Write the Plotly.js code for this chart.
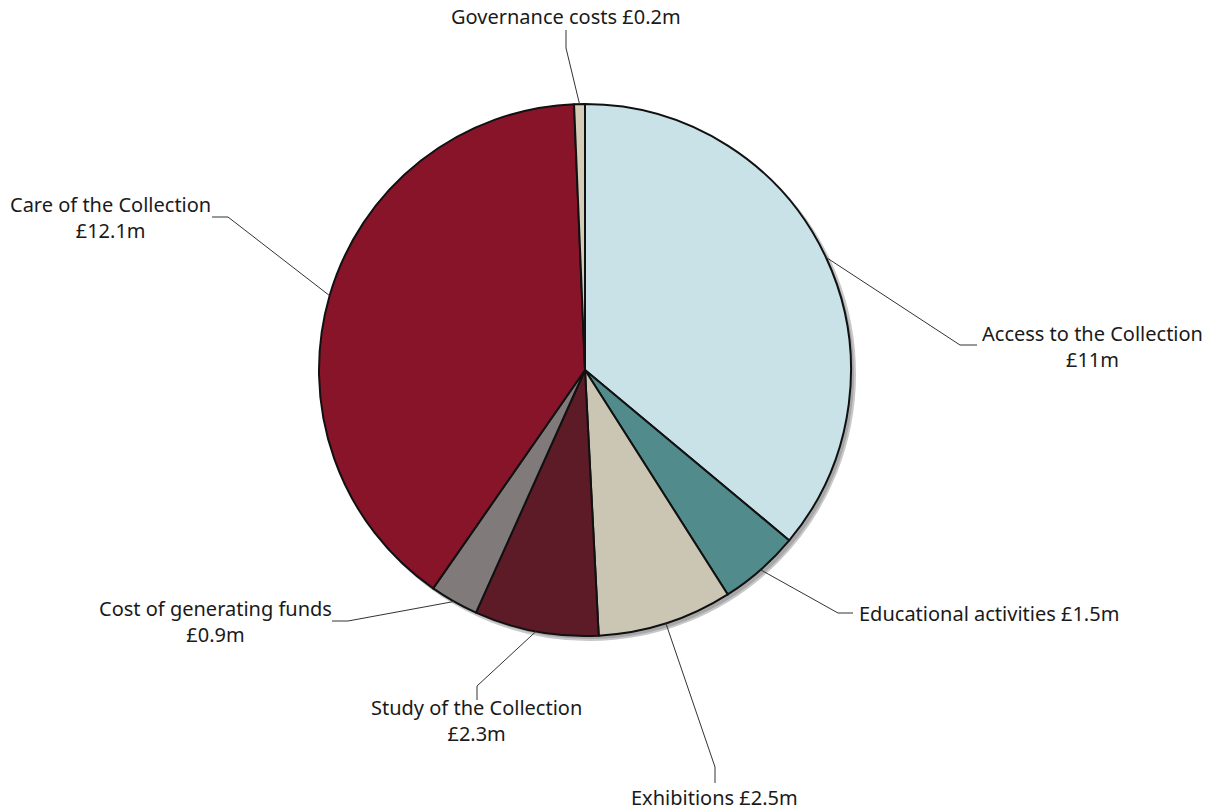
<!DOCTYPE html>
<html>
<head>
<meta charset="utf-8">
<script src="https://cdn.plot.ly/plotly-3.0.1.min.js"></script>
<style>html,body{margin:0;padding:0;background:#fff;}#chart{width:1211px;height:811px;}</style>
</head>
<body>
<div id="chart"></div>
<script>
// ---- data ----
const categories = ["Access to the Collection", "Educational activities", "Exhibitions", "Study of the Collection", "Cost of generating funds", "Care of the Collection", "Governance costs"];
const values = [11, 1.5, 2.5, 2.3, 0.9, 12.1, 0.2];
const valueLabels = ["£11m", "£1.5m", "£2.5m", "£2.3m", "£0.9m", "£12.1m", "£0.2m"];
const colors = ["#c9e2e8", "#528b8c", "#cbc6b4", "#5d1b27", "#807a7b", "#871428", "#d6cdb9"];

// ---- layout constants (pixels) ----
const W = 1211, H = 811;
const CX = 585, CY = 370, R = 266;
// label layout: elbow point, line end point, text anchor, text pieces
const labelLayout = [
  {elbow: [960, 345], end: [977, 345], text: [1092, 346], sep: "<br>", anchor: "center"},
  {elbow: [838, 613], end: [853, 613], text: [857, 613], sep: " ", anchor: "left"},
  {elbow: [715, 767], end: [715, 783], text: [715, 797], sep: " ", anchor: "center"},
  {elbow: [477, 686], end: [477, 700], text: [476, 720], sep: "<br>", anchor: "center"},
  {elbow: [348, 621], end: [332, 621], text: [215, 621], sep: "<br>", anchor: "center"},
  {elbow: [228, 217], end: [212, 217], text: [110, 217], sep: "<br>", anchor: "center"},
  {elbow: [566, 48], end: [566, 30], text: [566, 16], sep: " ", anchor: "center"}
];

const px = x => x / W;
const py = y => 1 - y / H;

const total = values.reduce((a, b) => a + b, 0);
const shapes = [];
const annotations = [];

// drop shadow behind the pie
shapes.push({type: "circle", xref: "paper", yref: "paper", layer: "below",
  x0: px(CX - R + 4), x1: px(CX + R + 4), y0: py(CY + R + 4), y1: py(CY - R + 4),
  fillcolor: "#a8a8a8", line: {color: "#c8c8c8", width: 2}});

let cum = 0;
values.forEach((v, i) => {
  const theta = (cum + v / 2) / total * 2 * Math.PI;
  cum += v;
  const sx = CX + R * Math.sin(theta), sy = CY - R * Math.cos(theta);
  const L = labelLayout[i];
  const path = `M ${px(sx)},${py(sy)} L ${px(L.elbow[0])},${py(L.elbow[1])} L ${px(L.end[0])},${py(L.end[1])}`;
  shapes.push({type: "path", xref: "paper", yref: "paper", layer: "above", path: path,
    line: {color: "#333", width: 1}});
  annotations.push({xref: "paper", yref: "paper", x: px(L.text[0]), y: py(L.text[1]),
    xanchor: L.anchor, yanchor: "middle", showarrow: false, align: "center",
    text: categories[i] + L.sep + valueLabels[i],
    font: {family: "'Noto Sans', 'DejaVu Sans', sans-serif", size: 20, color: "#1a1a1a"}});
});

const trace = {
  type: "pie",
  labels: categories,
  values: values,
  sort: false,
  direction: "clockwise",
  rotation: 0,
  textinfo: "none",
  hoverinfo: "label+value",
  marker: {colors: colors, line: {color: "#111", width: 2}},
  domain: {x: [px(CX - R), px(CX + R)], y: [py(CY + R), py(CY - R)]},
  showlegend: false
};

const layout = {
  width: W, height: H,
  margin: {l: 0, r: 0, t: 0, b: 0},
  paper_bgcolor: "#fff",
  showlegend: false,
  shapes: shapes,
  annotations: annotations
};

Plotly.newPlot("chart", [trace], layout, {displayModeBar: false, staticPlot: true});
</script>
</body>
</html>
